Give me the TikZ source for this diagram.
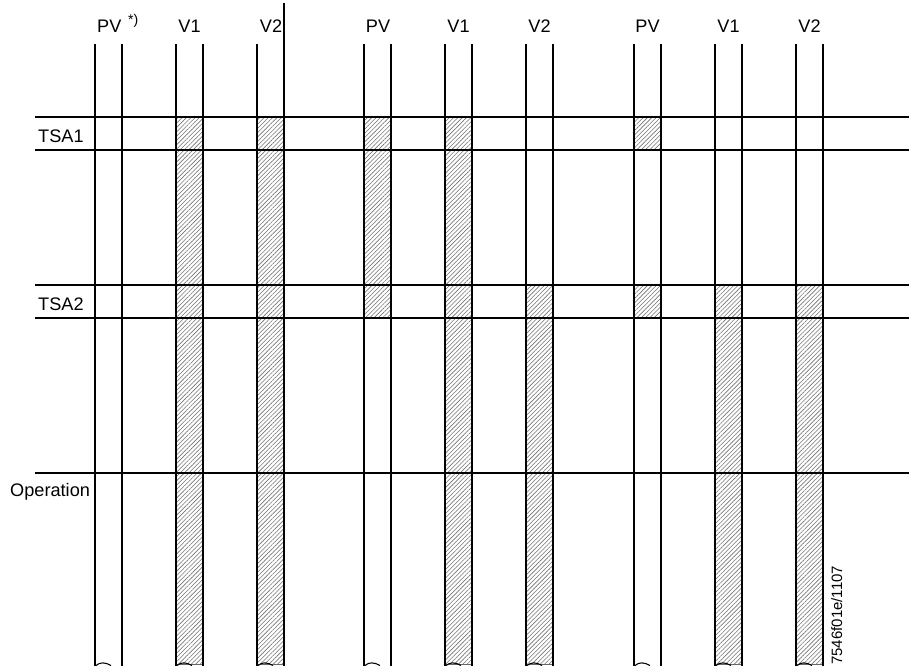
\documentclass[tikz,border=0pt]{standalone}
\usepackage{fontspec}
\setmainfont{Liberation Sans}
\usetikzlibrary{patterns.meta}

\begin{document}
\begin{tikzpicture}[x=0.03cm, y=-0.03cm,
    wire/.style={line width=1.6pt},
    hatch/.style={pattern={Lines[angle=45, distance=2.6pt, line width=0.5pt]}, pattern color=black!55, draw=black!60, line width=0.3pt},
    brk/.style={line width=0.9pt},
    lbl/.style={font=\fontsize{15.5}{18}\selectfont, inner sep=0pt},
    code/.style={font=\fontsize{12.8}{15}\selectfont, inner sep=0pt, rotate=90},
  ]
    \useasboundingbox (0,0) rectangle (909,666);

    % shaded time slots
    \fill[hatch] (176,117) rectangle (203,664);
    \fill[hatch] (257,117) rectangle (284,664);
    \fill[hatch] (364,117) rectangle (391,318);
    \fill[hatch] (445,117) rectangle (472,664);
    \fill[hatch] (526,285) rectangle (553,664);
    \fill[hatch] (634,117) rectangle (661,150);
    \fill[hatch] (634,285) rectangle (661,318);
    \fill[hatch] (715,285) rectangle (742,664);
    \fill[hatch] (796,285) rectangle (823,664);

    % rows
    \draw[wire] (35,117) -- (909,117);
    \draw[wire] (35,150) -- (909,150);
    \draw[wire] (35,285) -- (909,285);
    \draw[wire] (35,318) -- (909,318);
    \draw[wire] (35,473) -- (909,473);

    % valve columns with break marks
    \foreach \x in {95,176,257,364,445,526,634,715,796} {
      \draw[wire] (\x,44) -- (\x,666);
      \draw[wire] (\x+27,44) -- (\x+27,666);
      \draw[brk] (\x+1,665.5) .. controls (\x+5,662) and (\x+10,662) .. (\x+16,665.5);
    }
    \draw[wire] (284,3) -- (284,44);

    % column labels
    \node[lbl, anchor=base west] (pva) at (97,32) {PV};
    \node[font=\fontsize{12}{14}\selectfont, inner sep=0pt, anchor=base west] (note) at (128,24) {*)};
    \node[lbl, anchor=base] (v1a) at (189.5,32) {V1};
    \node[lbl, anchor=base] (v2a) at (271,32) {V2};
    \node[lbl, anchor=base] (pvb) at (378,32) {PV};
    \node[lbl, anchor=base] (v1b) at (458.5,32) {V1};
    \node[lbl, anchor=base] (v2b) at (539.5,32) {V2};
    \node[lbl, anchor=base] (pvc) at (647.5,32) {PV};
    \node[lbl, anchor=base] (v1c) at (728.5,32) {V1};
    \node[lbl, anchor=base] (v2c) at (809.5,32) {V2};

    % row labels
    \node[lbl, anchor=base west] (tsa1) at (38,142) {TSA1};
    \node[lbl, anchor=base west] (tsa2) at (38,310) {TSA2};
    \node[lbl, anchor=base west] (oper) at (10,496) {Operation};

    \node[code, anchor=base west] (ref) at (842,665) {7546f01e/1107};
  \end{tikzpicture}
\end{document}
